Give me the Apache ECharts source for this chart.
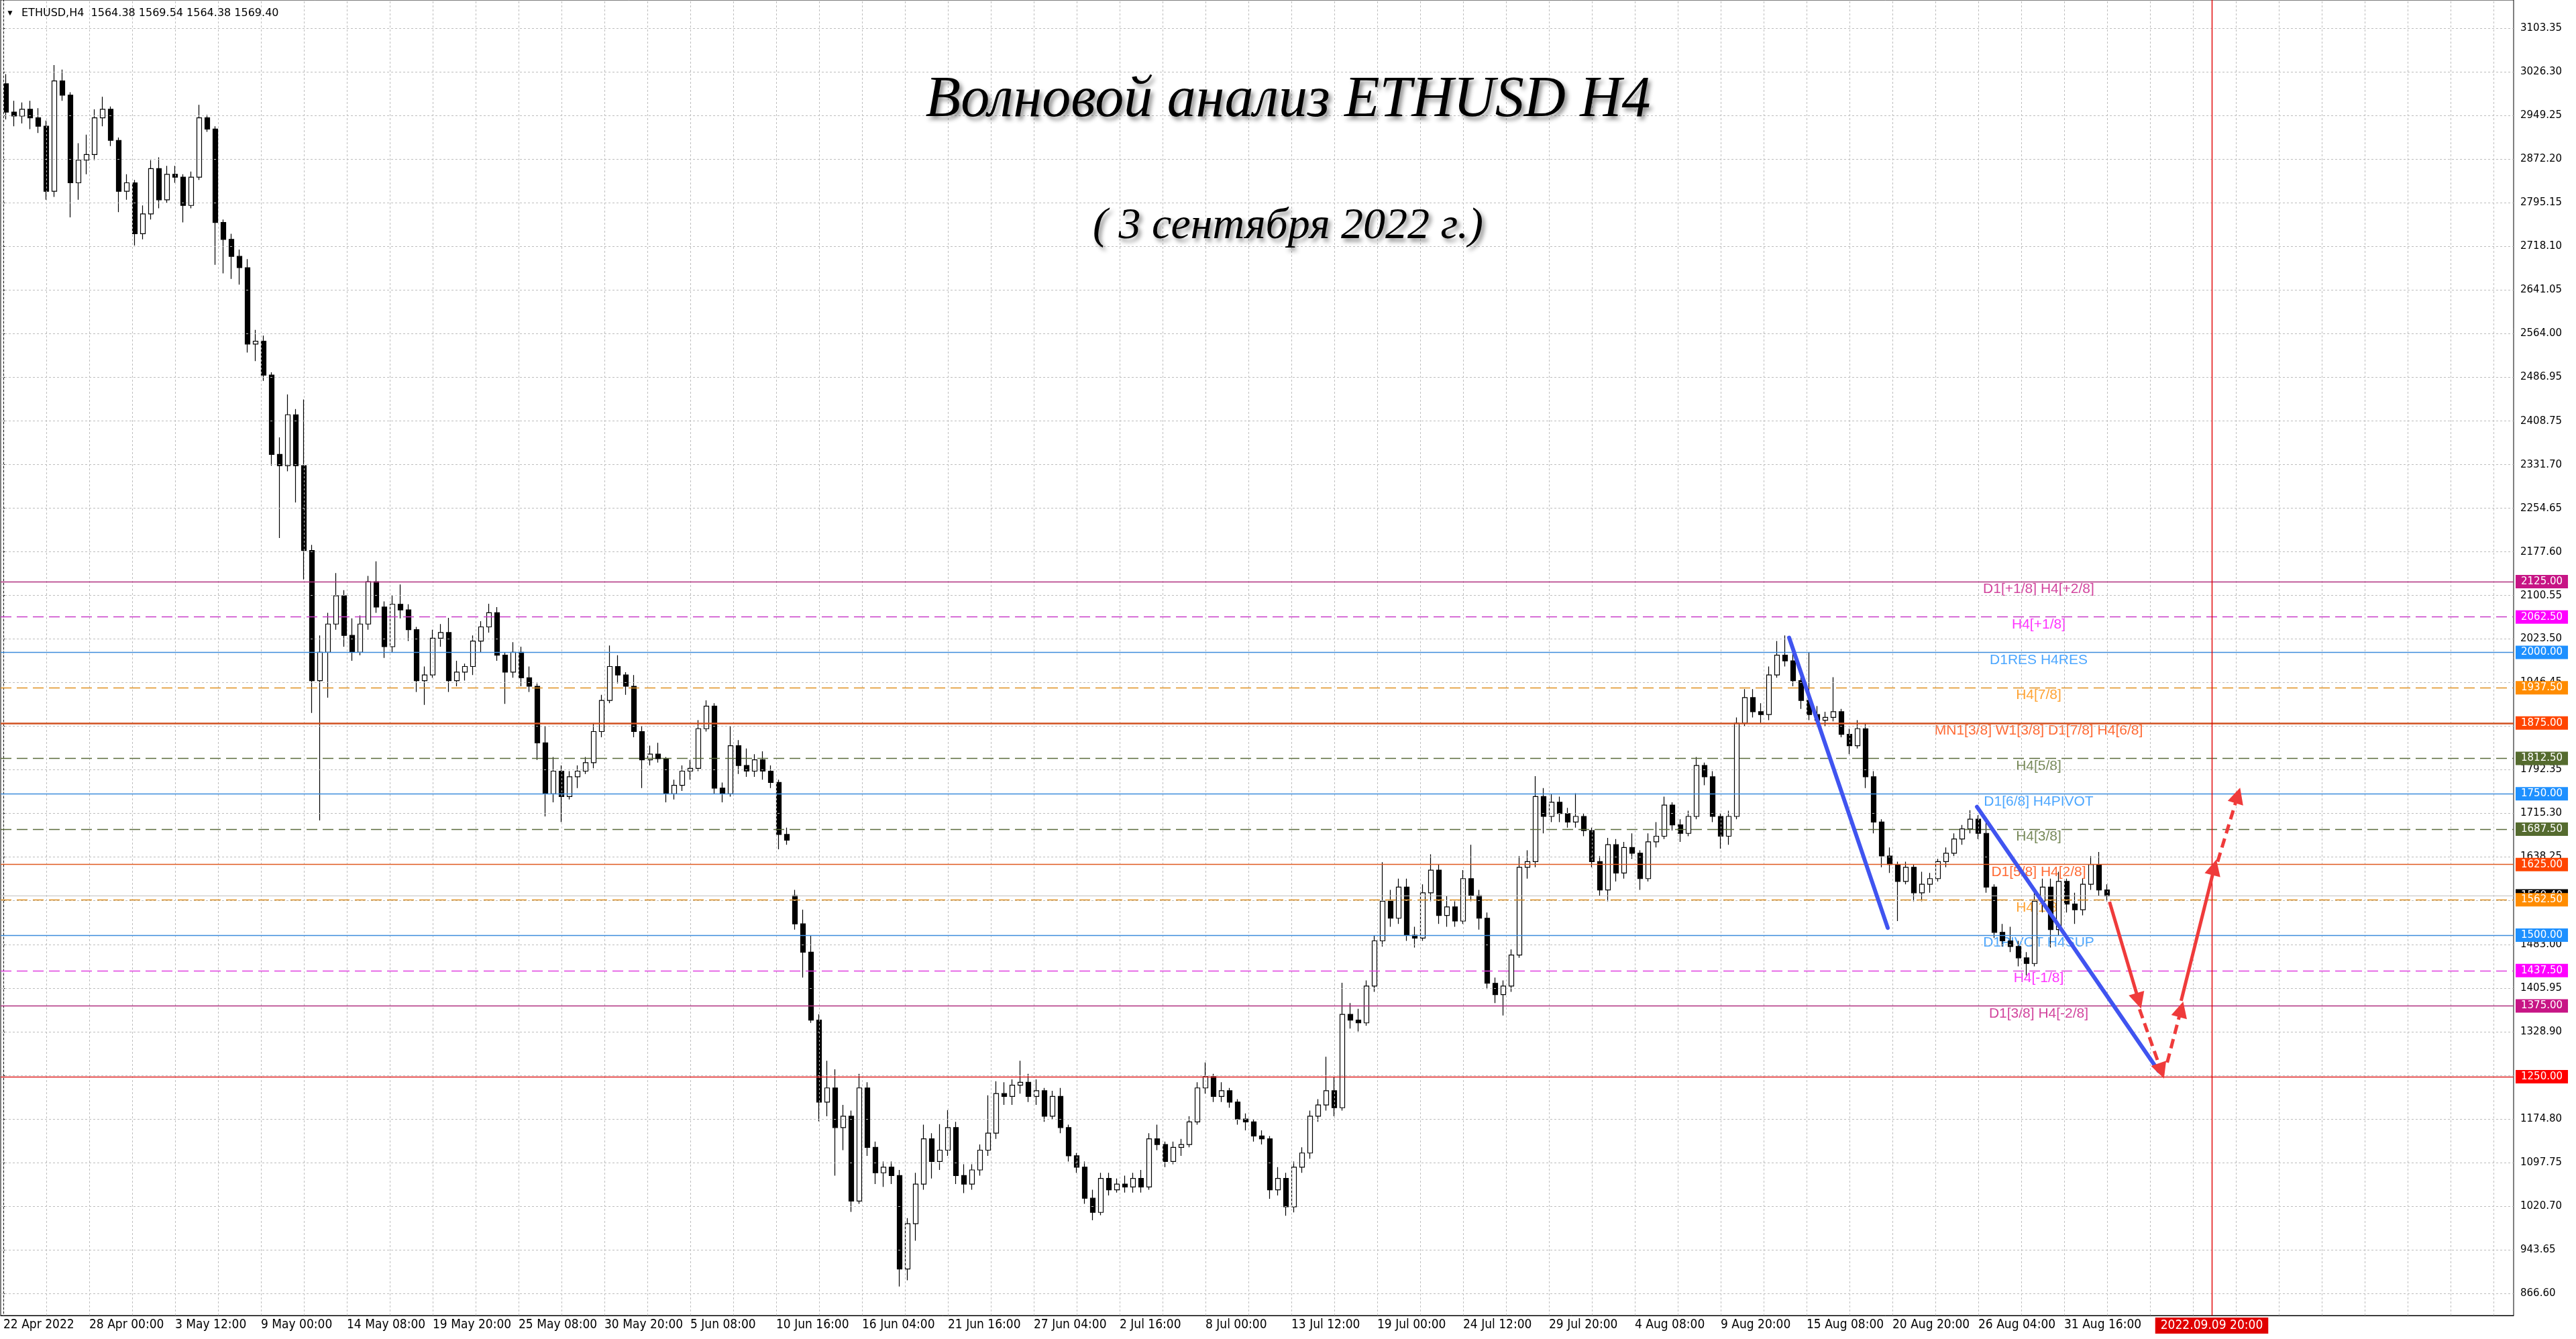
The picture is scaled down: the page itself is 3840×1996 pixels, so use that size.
<!DOCTYPE html>
<html><head><meta charset="utf-8">
<script src="https://cdn.jsdelivr.net/npm/echarts@6/dist/echarts.min.js"></script>
<style>html,body{margin:0;padding:0;background:#fff}#c{width:3840px;height:1996px}</style>
</head><body><div id="c"></div>
<script>
// ---------------- DATA ----------------
const symbolName = 'ETHUSD,H4';
const lastBar = [1564.38, 1569.54, 1564.38, 1569.40];
const xLabels = ['22 Apr 2022','28 Apr 00:00','3 May 12:00','9 May 00:00','14 May 08:00','19 May 20:00','25 May 08:00','30 May 20:00','5 Jun 08:00','10 Jun 16:00','16 Jun 04:00','21 Jun 16:00','27 Jun 04:00','2 Jul 16:00','8 Jul 00:00','13 Jul 12:00','19 Jul 00:00','24 Jul 12:00','29 Jul 20:00','4 Aug 08:00','9 Aug 20:00','15 Aug 08:00','20 Aug 20:00','26 Aug 04:00','31 Aug 16:00'];
const yTicks = [3103.35,3026.30,2949.25,2872.20,2795.15,2718.10,2641.05,2564.00,2486.95,2408.75,2331.70,2254.65,2177.60,2100.55,2023.50,1946.45,1869.40,1792.35,1715.30,1638.25,1561.20,1483.00,1405.95,1328.90,1251.85,1174.80,1097.75,1020.70,943.65,866.60];
// 12-hour candles: [open, high, low, close]
const ohlc = [
[3005,3022,2942,2955],[2955,2975,2930,2948],[2948,2972,2935,2960],[2960,2975,2925,2945],[2945,2962,2918,2930],
[2930,2940,2800,2815],[2815,3038,2805,3010],[3010,3030,2975,2985],[2985,2990,2769,2830],[2830,2900,2800,2870],
[2870,2915,2845,2880],[2880,2960,2870,2945],[2945,2982,2930,2960],[2960,2965,2895,2905],[2905,2910,2778,2815],
[2815,2845,2800,2830],[2830,2835,2719,2740],[2740,2790,2730,2775],[2775,2870,2765,2855],[2855,2875,2785,2800],
[2800,2860,2795,2845],[2845,2860,2830,2840],[2840,2845,2760,2790],[2790,2850,2785,2840],[2840,2968,2835,2945],
[2945,2950,2920,2925],[2925,2930,2685,2760],[2760,2765,2670,2730],[2730,2740,2660,2700],[2700,2712,2650,2680],
[2680,2695,2530,2545],[2545,2570,2515,2550],[2550,2560,2480,2490],[2490,2495,2330,2350],[2350,2380,2202,2330],
[2330,2456,2320,2420],[2420,2430,2265,2330],[2330,2447,2129,2180],[2180,2190,1893,1950],[1950,2030,1703,2000],
[2000,2070,1920,2050],[2050,2140,2040,2100],[2100,2110,2010,2030],[2030,2060,1985,2000],[2000,2065,1995,2050],
[2050,2135,2040,2125],[2125,2161,2070,2080],[2080,2090,1990,2010],[2010,2100,2000,2085],[2085,2120,2060,2075],
[2075,2085,2020,2040],[2040,2045,1930,1950],[1950,1975,1907,1960],[1960,2040,1955,2025],[2025,2050,2010,2035],
[2035,2061,1930,1950],[1950,1985,1940,1965],[1965,1980,1950,1975],[1975,2030,1960,2020],[2020,2055,2000,2045],
[2045,2086,2035,2070],[2070,2080,1985,1995],[1995,2000,1909,1965],[1965,2018,1955,2000],[2000,2010,1940,1955],
[1955,1975,1930,1940],[1940,1945,1810,1840],[1840,1870,1710,1750],[1750,1815,1735,1790],[1790,1800,1700,1745],
[1745,1790,1740,1780],[1780,1800,1760,1790],[1790,1815,1785,1805],[1805,1875,1795,1860],[1860,1925,1850,1915],
[1915,2012,1910,1975],[1975,1995,1945,1960],[1960,1965,1925,1940],[1940,1960,1850,1860],[1860,1870,1760,1810],
[1810,1835,1800,1820],[1820,1840,1805,1812],[1812,1815,1735,1750],[1750,1775,1740,1765],[1765,1800,1755,1790],
[1790,1810,1775,1795],[1795,1880,1790,1865],[1865,1915,1860,1905],[1905,1910,1750,1760],[1760,1770,1735,1750],
[1750,1870,1745,1835],[1835,1845,1785,1800],[1800,1830,1780,1790],[1790,1820,1780,1810],[1810,1825,1775,1790],
[1790,1800,1760,1770],[1770,1775,1652,1678],[1678,1690,1660,1668],[1570,1580,1510,1520],[1520,1545,1425,1470],
[1470,1500,1345,1350],[1350,1360,1171,1205],[1205,1278,1180,1230],[1230,1263,1075,1160],[1160,1200,1120,1180],
[1180,1190,1011,1030],[1030,1255,1025,1230],[1230,1240,1110,1125],[1125,1135,1060,1080],[1080,1100,1055,1090],
[1090,1100,1060,1075],[1075,1085,879,910],[910,1000,890,990],[990,1080,960,1060],[1060,1165,1050,1140],
[1140,1150,1070,1100],[1100,1166,1085,1120],[1120,1191,1110,1160],[1160,1170,1060,1075],[1075,1095,1044,1060],
[1060,1095,1050,1085],[1085,1130,1075,1120],[1120,1217,1110,1150],[1150,1242,1140,1220],[1220,1240,1200,1215],
[1215,1245,1200,1235],[1235,1278,1220,1240],[1240,1255,1205,1215],[1215,1245,1200,1225],[1225,1230,1170,1180],
[1180,1225,1175,1215],[1215,1230,1150,1160],[1160,1165,1100,1110],[1110,1115,1080,1090],[1090,1100,1025,1035],
[1035,1050,996,1010],[1010,1080,1005,1070],[1070,1080,1040,1050],[1050,1070,1045,1060],[1060,1075,1045,1055],
[1055,1080,1045,1070],[1070,1085,1045,1055],[1055,1150,1050,1140],[1140,1165,1120,1130],[1130,1135,1090,1100],
[1100,1135,1095,1125],[1125,1140,1110,1130],[1130,1180,1125,1170],[1170,1240,1165,1230],[1230,1275,1220,1250],
[1250,1255,1205,1215],[1215,1240,1205,1225],[1225,1230,1195,1205],[1205,1210,1165,1175],[1175,1185,1155,1170],
[1170,1175,1135,1145],[1145,1155,1130,1140],[1140,1145,1034,1050],[1050,1090,1040,1070],[1070,1080,1004,1020],
[1020,1100,1010,1090],[1090,1125,1080,1115],[1115,1190,1105,1180],[1180,1210,1170,1200],[1200,1285,1190,1225],
[1225,1250,1180,1195],[1195,1416,1190,1360],[1360,1380,1335,1350],[1350,1370,1330,1345],[1345,1420,1340,1410],
[1410,1500,1400,1490],[1490,1629,1480,1560],[1560,1580,1515,1530],[1530,1600,1520,1585],[1585,1600,1490,1500],
[1500,1515,1478,1495],[1495,1590,1490,1575],[1575,1643,1560,1615],[1615,1625,1520,1535],[1535,1570,1515,1550],
[1550,1560,1515,1525],[1525,1615,1520,1600],[1600,1660,1560,1570],[1570,1580,1510,1530],[1530,1540,1405,1415],
[1415,1425,1380,1395],[1395,1420,1358,1410],[1410,1475,1400,1465],[1465,1640,1460,1620],[1620,1650,1600,1630],
[1630,1781,1620,1745],[1745,1760,1680,1710],[1710,1750,1700,1735],[1735,1745,1700,1715],[1715,1725,1690,1700],
[1700,1751,1690,1710],[1710,1715,1675,1685],[1685,1690,1620,1630],[1630,1640,1570,1580],[1580,1672,1560,1660],
[1660,1670,1595,1610],[1610,1665,1600,1655],[1655,1680,1635,1645],[1645,1650,1580,1600],[1600,1680,1595,1665],
[1665,1700,1655,1675],[1675,1745,1670,1730],[1730,1735,1685,1695],[1695,1705,1665,1680],[1680,1720,1675,1710],
[1710,1815,1705,1800],[1800,1805,1765,1780],[1780,1790,1700,1710],[1710,1715,1653,1675],[1675,1720,1660,1710],
[1710,1885,1705,1875],[1875,1935,1870,1920],[1920,1935,1885,1895],[1895,1910,1875,1890],[1890,1975,1880,1960],
[1960,2020,1955,1995],[1995,2030,1975,1985],[1985,2000,1940,1950],[1950,1960,1900,1915],[1915,2000,1880,1890],
[1890,1905,1872,1880],[1880,1895,1870,1885],[1885,1956,1878,1895],[1895,1900,1850,1855],[1855,1865,1820,1835],
[1835,1880,1830,1865],[1865,1875,1760,1780],[1780,1790,1680,1700],[1700,1705,1620,1640],[1640,1655,1610,1625],
[1625,1630,1525,1595],[1595,1630,1590,1620],[1620,1625,1560,1575],[1575,1612,1560,1590],[1590,1610,1575,1600],
[1600,1635,1595,1630],[1630,1655,1620,1645],[1645,1680,1640,1670],[1670,1695,1660,1688],[1688,1721,1680,1705],
[1705,1712,1670,1680],[1680,1700,1575,1585],[1585,1590,1495,1505],[1505,1520,1480,1490],[1490,1515,1470,1480],
[1480,1490,1445,1460],[1460,1470,1429,1450],[1450,1575,1445,1560],[1560,1600,1540,1585],[1585,1600,1478,1510],
[1510,1612,1500,1595],[1595,1600,1540,1555],[1555,1575,1520,1545],[1545,1600,1535,1590],[1590,1640,1580,1625],
[1625,1647,1570,1580],[1580,1590,1560,1569.40]
];
const levelPrices = [2125, 2062.5, 2000, 1937.5, 1875, 1812.5, 1750, 1687.5, 1625, 1562.5, 1500, 1437.5, 1375, 1250];
const levelTexts = ['D1[+1/8] H4[+2/8]','H4[+1/8]','D1RES H4RES','H4[7/8]','MN1[3/8] W1[3/8] D1[7/8] H4[6/8]','H4[5/8]','D1[6/8] H4PIVOT','H4[3/8]','D1[5/8] H4[2/8]','H4[1/8]','D1PIVOT H4SUP','H4[-1/8]','D1[3/8] H4[-2/8]',''];
const markerDate = '2022.09.09 20:00';
const markerBar = 823;           // H4 bar index of the vertical marker
// wave annotations: [[bar, price], [bar, price]]
const waveLines = [[[665.5, 2026], [702.25, 1513]], [[735.5, 1727], [803.2, 1260]]];
const forecastSolid = [[[784.9, 1559], [795.8, 1384]], [[811.6, 1384], [824.0, 1620]]];
const forecastDashed = [[[796.1, 1369], [804.2, 1260]], [[806.4, 1275], [811.6, 1369]], [[825.2, 1630], [832.7, 1747]]];

// ---------------- STYLE / LAYOUT ----------------
const BARS_PER_LABEL = 32, BARS_PER_CANDLE = 3, GRID_STEP = 16;
const LABEL_BAR = 758.5;
const X_MIN = -1, X_MAX = 935.5, Y_MIN = 827.7, Y_MAX = 3153.15;
const levelColors = ['#C71585','#FF00FF','#1E90FF','#FF8C00','#FF4500','#556B2F','#1E90FF','#556B2F','#FF4500','#FF8C00','#1E90FF','#FF00FF','#C71585','#FF0000'];
const levelLineColors = ['#B0307F','#C83CC8','#3C8CDC','#E09020','#D05020','#5A6A3A','#3C8CDC','#5A6A3A','#E05A20','#E09020','#3C8CDC','#E040E0','#B0307F','#E02020'];
const levelDashed = [false,true,false,true,false,true,false,true,false,true,false,true,false,false];
const NARROW = "'Liberation Sans Narrow','DejaVu Sans Condensed','Arial Narrow',sans-serif";
const AXISFONT = "'DejaVu Sans',Verdana,sans-serif";

const candleData = ohlc.map((r, i) => [i * BARS_PER_CANDLE + 1, r[0], r[3], r[2], r[1]]);
const xLabelBars = xLabels.map((_, i) => i * BARS_PER_LABEL);
const vGrid = [];
for (let b = 0; b <= X_MAX; b += GRID_STEP) vGrid.push({ xAxis: b });

const priceLevelLines = [{
  yAxis: lastBar[3],
  lineStyle: { color: '#C0C0C0', type: 'solid', width: 1.2 },
  label: { show: true, position: 'end', distance: 3, formatter: lastBar[3].toFixed(2), color: '#fff', backgroundColor: '#000', padding: [3, 8, 2, 8], fontFamily: AXISFONT, fontSize: 15 }
}];
levelPrices.forEach((p, i) => {
  priceLevelLines.push({
    yAxis: p,
    lineStyle: { color: levelLineColors[i], type: levelDashed[i] ? [16, 8] : 'solid', width: p === 1875 ? 2.5 : 1.4, opacity: 1 },
    label: { show: true, position: 'end', distance: 3, formatter: p.toFixed(2), color: '#fff', backgroundColor: levelColors[i], padding: [3, 8, 2, 8], fontFamily: AXISFONT, fontSize: 15 }
  });
});

const levelTextData = levelPrices.map((p, i) => ({
  name: levelTexts[i], value: [LABEL_BAR, p], label: { color: levelColors[i] }
})).filter(d => d.name);

const chart = echarts.init(document.getElementById('c'), null, { renderer: 'canvas', width: 3840, height: 1996 });
chart.setOption({
  animation: false,
  backgroundColor: '#fff',
  grid: { left: 1, right: 93, top: 0, bottom: 35, show: true, borderColor: '#000', borderWidth: 1, backgroundColor: '#fff' },
  xAxis: {
    type: 'value', min: X_MIN, max: X_MAX,
    axisLine: { show: true, onZero: false, lineStyle: { color: '#000', width: 1 } },
    axisTick: { show: false },
    splitLine: { show: false },
    axisLabel: {
      customValues: xLabelBars, formatter: v => xLabels[Math.round(v / BARS_PER_LABEL)] || '',
      align: 'left', margin: 5, fontFamily: NARROW, fontSize: 19, color: '#000'
    }
  },
  yAxis: {
    type: 'value', position: 'right', min: Y_MIN, max: Y_MAX, scale: true,
    axisLine: { show: true, lineStyle: { color: '#000', width: 1 } },
    axisTick: { show: true, length: 5, customValues: yTicks, lineStyle: { color: '#000' } },
    splitLine: { show: false },
    axisLabel: { customValues: yTicks, formatter: v => v.toFixed(2), margin: 10, fontFamily: AXISFONT, fontSize: 15, color: '#000' }
  },
  graphic: [
    { type: 'text', x: 9, y: 20, z: 100, style: { text: '▼', fontSize: 12, fill: '#000', align: 'left', verticalAlign: 'middle' } },
    { type: 'text', x: 32, y: 20, z: 100, style: { text: symbolName + '  ' + lastBar.map(v => v.toFixed(2)).join(' '), fontFamily: AXISFONT, fontSize: 16, fill: '#000', align: 'left', verticalAlign: 'middle' } },
    { type: 'text', x: 1920, y: 150, z: 100, style: { text: 'Волновой анализ ETHUSD H4', fontFamily: "'Liberation Serif',serif", fontStyle: 'italic', fontSize: 86, fill: '#000', align: 'center', verticalAlign: 'middle', textShadowColor: 'rgba(0,0,0,0.45)', textShadowBlur: 6, textShadowOffsetX: 4, textShadowOffsetY: 5 } },
    { type: 'text', x: 1920, y: 338, z: 100, style: { text: '( 3 сентября 2022 г.)', fontFamily: "'Liberation Serif',serif", fontStyle: 'italic', fontSize: 66, fill: '#000', align: 'center', verticalAlign: 'middle', textShadowColor: 'rgba(0,0,0,0.45)', textShadowBlur: 6, textShadowOffsetX: 4, textShadowOffsetY: 5 } }
  ],
  series: [
    { // chart grid
      type: 'line', data: [], z: 0, silent: true,
      markLine: { silent: true, symbol: ['none', 'none'], animation: false, label: { show: false }, emphasis: { disabled: true },
        lineStyle: { color: '#BDBDBD', type: [3, 3], width: 1 },
        data: vGrid.concat(yTicks.map(v => ({ yAxis: v }))) }
    },
    { // price levels
      type: 'line', data: [], z: 1, silent: true,
      markLine: { silent: true, symbol: ['none', 'none'], animation: false, precision: 2, emphasis: { disabled: true }, data: priceLevelLines }
    },
    { // level names
      type: 'scatter', data: levelTextData, z: 1, silent: true, symbolSize: 2,
      itemStyle: { color: 'rgba(255,255,255,0)', borderWidth: 0 },
      label: { show: true, position: 'bottom', distance: 0, formatter: '{b}', fontFamily: "'Liberation Sans',Arial,sans-serif", fontSize: 21 }
    },
    {
      type: 'candlestick', data: candleData, z: 2, barWidth: 8, large: false, silent: true,
      itemStyle: { color: '#fff', color0: '#000', borderColor: '#000', borderColor0: '#000', borderWidth: 1.2 }
    },
    { // marker line and date box
      type: 'line', data: [], z: 3, silent: true,
      markLine: { silent: true, symbol: ['none', 'none'], animation: false, emphasis: { disabled: true },
        data: [{ xAxis: markerBar, lineStyle: { color: '#E00000', width: 1.4, type: 'solid', opacity: 1 },
          label: { show: true, position: 'start', distance: 3, formatter: markerDate, color: '#fff', backgroundColor: '#E00000', padding: [3, 8, 2, 8], fontFamily: NARROW, fontSize: 19 } }] }
    },
    {
      type: 'lines', coordinateSystem: 'cartesian2d', z: 5, silent: true,
      data: waveLines.map(c => ({ coords: c })),
      lineStyle: { color: '#4054F0', width: 6, opacity: 1, cap: 'round' }, symbol: 'none'
    },
    {
      type: 'lines', coordinateSystem: 'cartesian2d', z: 6, silent: true,
      data: forecastSolid.map(c => ({ coords: c })),
      lineStyle: { color: '#EF3B3B', width: 5, opacity: 1, type: 'solid' }, symbol: ['none', 'triangle'], symbolSize: [18, 24]
    },
    {
      type: 'lines', coordinateSystem: 'cartesian2d', z: 6, silent: true,
      data: forecastDashed.map(c => ({ coords: c })),
      lineStyle: { color: '#EF3B3B', width: 5, opacity: 1, type: [14, 8] }, symbol: ['none', 'triangle'], symbolSize: [18, 24]
    }
  ]
});
</script></body></html>
